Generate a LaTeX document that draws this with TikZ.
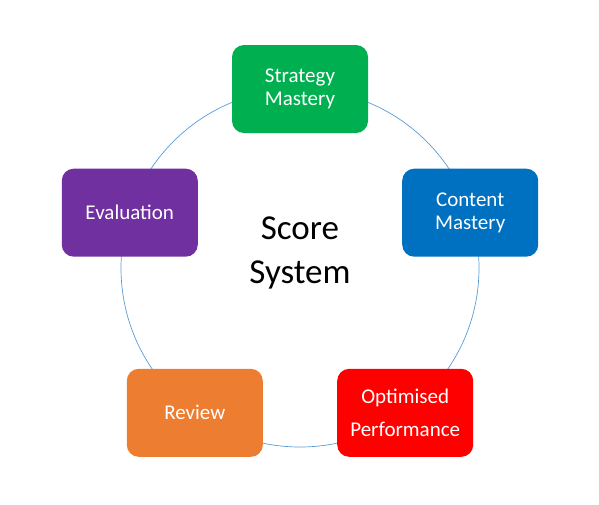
\documentclass[tikz,border=0pt]{standalone}
\usepackage{fontspec}
\setmainfont{Carlito}
\usetikzlibrary{calc,positioning}
\definecolor{RingBlue}{HTML}{5B9BD5}
\definecolor{StageGreen}{HTML}{00B050}
\definecolor{StageBlue}{HTML}{0070C0}
\definecolor{StageRed}{HTML}{FF0000}
\definecolor{StageOrange}{HTML}{ED7D31}
\definecolor{StagePurple}{HTML}{7030A0}
\begin{document}
\begin{tikzpicture}[x=1pt,y=-1pt,
      ring/.style={circle,draw=RingBlue,line width=0.7pt,minimum size=358pt,inner sep=0pt},
      stage/.style={rounded corners=12pt,minimum width=136pt,minimum height=88pt,
                    inner sep=0pt,text=white,align=center,
                    font=\fontsize{21}{23}\selectfont},
      title/.style={align=center,font=\fontsize{35}{44}\selectfont}]
    \useasboundingbox (0,0) rectangle (599,504);
    \node[ring] (ring) at (300,268) {};
    \node[title] (score) at (300,253) {Score\\System};
    % the five stages sit on the ring
    \foreach \name/\ang/\col/\txt in {strategy/90/StageGreen/{Strategy\\Mastery},
        content/18/StageBlue/{Content\\Mastery},
        optimised/-54/StageRed/{Optimised\\[10pt]Performance},
        review/-126/StageOrange/{Review},
        evaluation/162/StagePurple/{Evaluation}}{%
      \node[stage,fill=\col] (\name) at ($(ring.center)+(\ang:179pt)$) {\txt};
    }
\end{tikzpicture}
\end{document}
